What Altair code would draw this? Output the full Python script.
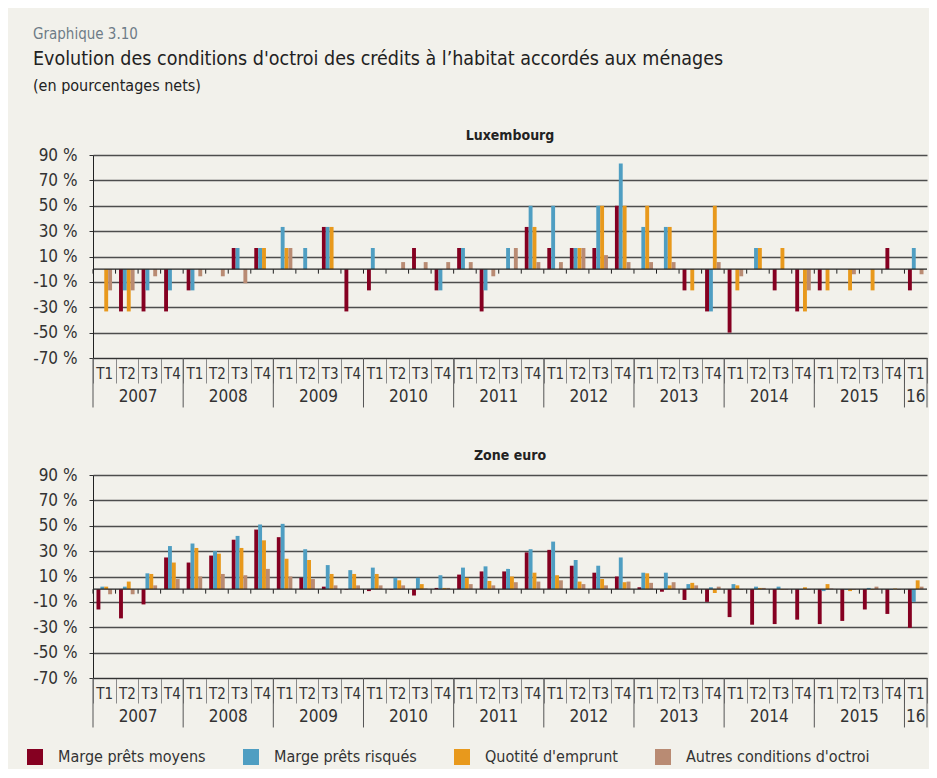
import altair as alt
import pandas as pd

# ---------------- data ----------------
years = [str(y) for y in range(2007, 2016)]
quarter_names = ["T1", "T2", "T3", "T4"]
periods = [f"{y}-{t}" for y in years for t in quarter_names] + ["2016-T1"]

series = ["Marge prêts moyens", "Marge prêts risqués", "Quotité d'emprunt",
          "Autres conditions d'octroi"]
colors = ["#850021", "#4f9ec2", "#e8991c", "#b98b73"]

y_ticks = [-70, -50, -30, -10, 10, 30, 50, 70, 90]

# Luxembourg (net percentages)
lux_moyens = [0, -33.3, -33.3, -33.3, -16.7, 0, 16.7, 16.7, 0, 0, 33.3, -33.3,
              -16.7, 0, 16.7, -16.7, 16.7, -33.3, 0, 33.3, 16.7, 16.7, 16.7, 50,
              0, 0, -16.7, -33.3, -50, 0, -16.7, -33.3, -16.7, 0, 0, 16.7, -16.7]
lux_risques = [0, -16.7, -16.7, -16.7, -16.7, 0, 16.7, 16.7, 33.3, 16.7, 33.3, 0,
               16.7, 0, 0, -16.7, 16.7, -16.7, 16.7, 50, 50, 16.7, 50, 83.3,
               33.3, 33.3, 0, -33.3, 0, 16.7, 0, 0, 0, 0, 0, 0, 16.7]
lux_quotite = [-33.3, -33.3, 0, 0, 0, 0, 0, 16.7, 16.7, 0, 33.3, 0,
               0, 0, 0, 0, 0, 0, 0, 33.3, 0, 16.7, 50, 50,
               50, 33.3, -16.7, 50, -16.7, 16.7, 16.7, -33.3, -16.7, -16.7, -16.7, 0, 0]
lux_autres = [-16.7, -16.7, -5.6, 0, -5.6, -5.6, -11.1, 0, 16.7, 0, 0, 0,
              0, 5.6, 5.6, 5.6, 5.6, -5.6, 16.7, 5.6, 5.6, 16.7, 11.1, 5.6,
              5.6, 5.6, 0, 5.6, -5.6, 0, 0, -16.7, 0, -4, 0, 0, -4]

# Zone euro (net percentages)
ze_moyens = [-16, -23, -12, 25, 21, 26.5, 39, 47, 41, 9, 2, -0.5,
             -1.5, -0.5, -5, 1, 11.5, 14, 14, 29, 31, 18.5, 13, 10,
             1.5, -2, -8.5, -10, -22, -28, -27.5, -24, -27.5, -25, -16, -19.5, -30.5]
ze_risques = [2, 2, 12.5, 34, 36, 30, 42, 51, 51.5, 31.5, 19, 15,
              17, 9, 9, 11, 17, 18, 16, 31.5, 37.5, 23, 18.5, 25,
              13, 13, 4, 1.5, 4, 2, 2, -0.5, -1.5, -0.5, 1, -0.5, -10]
ze_quotite = [2, 6, 12, 21, 32.5, 28, 32.5, 38.5, 24, 23, 12, 12,
              12, 7, 4, 1, 9, 6.5, 10, 13, 11, 6, 8, 5.5,
              12.5, 3, 5, -3, 3, 1, -0.5, 1.5, 4, -1.5, -0.5, 0.5, 7]
ze_autres = [-4, -4, 3, 8, 10, 12, 11, 16, 10, 8, 3, 3,
             3, 3, 0.5, 1, 4, 3, 5.5, 6, 7, 4, 3, 6,
             5, 5.5, 3, 2, -0.5, 1, -0.5, -0.5, 0.5, -0.5, 2, -0.5, 2]


def long_df(cols):
    rows = []
    for s, vals in zip(series, cols):
        for p, v in zip(periods, vals):
            rows.append({"q": p, "s": s, "v": v})
    return pd.DataFrame(rows)


lux_df = long_df([lux_moyens, lux_risques, lux_quotite, lux_autres])
ze_df = long_df([ze_moyens, ze_risques, ze_quotite, ze_autres])

# ---------------- style ----------------
FONT = "Liberation Sans Narrow, DejaVu Sans Condensed, Liberation Sans, sans-serif"
TXT = "#333333"
GRID = "#4d4d4d"
W, H = 834, 203

xscale = alt.Scale(domain=periods, paddingInner=0, paddingOuter=0)
yscale = alt.Scale(domain=[-70, 90], nice=False)

legend = alt.Legend(orient="none", direction="horizontal", legendX=-66, legendY=594,
                    title=None, symbolType="square", symbolSize=256,
                    symbolStrokeWidth=0, labelFontSize=16, labelColor=TXT,
                    labelOffset=15, columnPadding=37, padding=0, labelLimit=400)

x_axis = alt.Axis(title=None, labelExpr="split(datum.value, '-')[1]", labelAngle=0,
                  labelFontSize=15, labelColor=TXT, labelBaseline="middle",
                  labelPadding=-10, tickBand="extent", tickSize=25,
                  tickColor="#8a8a8a", tickWidth=1, domainColor="#333333",
                  domainWidth=1, grid=False)
y_axis = alt.Axis(title=None, values=y_ticks, labelExpr="datum.value + ' %'",
                  labelFontSize=17, labelColor=TXT, labelPadding=12, tickSize=4,
                  tickColor="#333333", domainColor="#222222", grid=True,
                  gridColor=GRID, gridWidth=1.4)


def xq(band):
    return alt.X("q:N", sort=periods, scale=xscale, axis=x_axis, bandPosition=band)


def yd(v):
    return alt.YDatum(v, scale=yscale, axis=y_axis)


def panel(df, title, header=False):
    bars = alt.Chart(df).mark_bar().encode(
        x=alt.X("q:N", sort=periods, scale=xscale, axis=x_axis),
        xOffset=alt.XOffset("s:N", sort=series,
                            scale=alt.Scale(domain=series, paddingInner=0, paddingOuter=0.9)),
        y=alt.Y("v:Q", scale=yscale, axis=y_axis),
        color=alt.Color("s:N", sort=series,
                        scale=alt.Scale(domain=series, range=colors), legend=legend),
    )
    zero_ticks = alt.Chart(pd.DataFrame({"q": periods})).mark_rule(
        color="#222222", strokeWidth=1).encode(x=xq(0), y=yd(0), y2=alt.Y2Datum(-3.5))
    zero = alt.Chart(pd.DataFrame({"q": periods[:1]})).mark_rule(
        color="#222222", strokeWidth=1.2).encode(y=yd(0))
    year_starts = [f"{y}-T1" for y in years] + ["2016-T1"]
    ysep = alt.Chart(pd.DataFrame({"q": year_starts})).mark_rule(
        color="#555555", strokeWidth=1).encode(x=xq(0), y=yd(-70), y2=alt.Y2Datum(-109))
    ysep_end = alt.Chart(pd.DataFrame({"q": ["2016-T1"]})).mark_rule(
        color="#555555", strokeWidth=1).encode(x=xq(1), y=yd(-70), y2=alt.Y2Datum(-109))
    ylab = alt.Chart(pd.DataFrame({"q": [f"{y}-T2" for y in years], "t": years})).mark_text(
        fontSize=17, color=TXT, baseline="middle", align="center").encode(
        x=xq(1), y=yd(-101), text="t:N")
    ylab16 = alt.Chart(pd.DataFrame({"q": ["2016-T1"], "t": ["16"]})).mark_text(
        fontSize=17, color=TXT, baseline="middle", align="center").encode(
        x=xq(0.5), y=yd(-101), text="t:N")
    ptitle = alt.Chart(pd.DataFrame({"t": [title]})).mark_text(
        fontSize=14, fontWeight="bold", color="#222222", baseline="middle", align="center").encode(
        text="t:N", x=alt.value(W / 2), y=alt.value(-19))
    layers = [bars, zero, zero_ticks, ysep, ysep_end, ylab, ylab16, ptitle]
    if header:
        h1 = alt.Chart(pd.DataFrame({"t": ["Graphique 3.10"]})).mark_text(
            align="left", baseline="middle", fontSize=15, color="#6e7c87").encode(
            text="t:N", x=alt.value(-60), y=alt.value(-121))
        h2 = alt.Chart(pd.DataFrame({"t": ["Evolution des conditions d'octroi des crédits à l\u2019habitat accordés aux ménages"]})).mark_text(
            align="left", baseline="middle", fontSize=19.5, color="#222222").encode(
            text="t:N", x=alt.value(-60), y=alt.value(-96))
        h3 = alt.Chart(pd.DataFrame({"t": ["(en pourcentages nets)"]})).mark_text(
            align="left", baseline="middle", fontSize=16, color="#222222").encode(
            text="t:N", x=alt.value(-60), y=alt.value(-69))
        layers += [h1, h2, h3]
    return alt.layer(*layers).properties(width=W, height=H)


p1 = panel(lux_df, "Luxembourg", header=True)
p2 = panel(ze_df, "Zone euro")

chart = alt.vconcat(p1, p2, spacing=117).properties(
    bounds="flush",
    padding={"left": 19, "top": 18, "right": 0, "bottom": 4},
    background="#f2f1eb",
).configure(font=FONT).configure_view(stroke="transparent")

chart.save("out.html", embed_options={"renderer": "svg", "actions": False})
